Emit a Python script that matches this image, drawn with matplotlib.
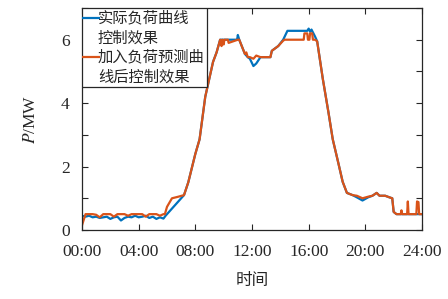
import matplotlib
matplotlib.use("Agg")
import matplotlib.pyplot as plt
from matplotlib.lines import Line2D
from matplotlib.patches import Rectangle
import numpy as np

# ---------------- data (hours, MW) ----------------
low_t = [0.0, 0.25, 0.5, 0.75, 1.0, 1.25, 1.5, 1.75, 2.0, 2.25, 2.5, 2.75,
         3.0, 3.25, 3.5, 3.75, 4.0, 4.25, 4.5, 4.75, 5.0, 5.25, 5.5, 5.75]
blue_low = [0.45, 0.42, 0.45, 0.40, 0.42, 0.38, 0.40, 0.42, 0.35, 0.40, 0.42, 0.30,
            0.38, 0.42, 0.40, 0.45, 0.40, 0.42, 0.45, 0.38, 0.42, 0.35, 0.40, 0.36]
orange_low = [0.15, 0.50, 0.50, 0.50, 0.48, 0.40, 0.50, 0.50, 0.50, 0.42, 0.50, 0.50,
              0.50, 0.45, 0.50, 0.50, 0.50, 0.50, 0.42, 0.50, 0.50, 0.50, 0.45, 0.50]

blue_t = [5.9, 7.2, 7.5, 8.0, 8.3, 8.7, 8.9, 9.25, 9.5, 9.75, 10.0, 10.5, 10.95,
          11.0, 11.1, 11.5, 11.7, 11.85, 12.1, 12.3, 12.6, 13.0, 13.3, 13.4, 13.85,
          14.2, 14.5, 15.9, 16.0, 16.1, 16.2, 16.45, 16.6, 17.0, 17.4, 17.7, 18.1,
          18.4, 18.7, 19.1, 19.4, 19.8, 20.2, 20.5, 20.8, 21.0, 21.4, 21.7, 21.9,
          22.0, 22.2, 24.0]
blue_v = [0.45, 1.1, 1.5, 2.4, 2.86, 4.2, 4.6, 5.3, 5.6, 6.0, 6.0, 6.0, 6.0,
          6.15, 6.0, 5.55, 5.45, 5.4, 5.17, 5.25, 5.45, 5.45, 5.45, 5.65, 5.8,
          6.0, 6.28, 6.28, 6.35, 6.25, 6.32, 6.1, 5.95, 4.76, 3.7, 2.86, 2.1,
          1.52, 1.17, 1.1, 1.03, 0.93, 1.03, 1.08, 1.17, 1.08, 1.08, 1.03, 1.0,
          0.57, 0.5, 0.5]

orange_t = [5.85, 6.0, 6.35, 6.8, 7.2, 7.5, 8.0, 8.3, 8.7, 8.9, 9.25, 9.5, 9.75,
            9.85, 9.9, 10.0, 10.05, 10.3, 10.35, 11.0, 11.1, 11.5, 11.6, 11.7, 11.85,
            12.1, 12.3, 12.6, 13.3, 13.4, 13.85, 14.2, 14.3, 15.65, 15.7, 15.9, 15.95,
            16.05, 16.1, 16.25, 16.3, 16.45, 16.6, 17.0, 17.4, 17.7, 18.1, 18.4, 18.7,
            19.1, 19.4, 19.8, 20.2, 20.5, 20.8, 21.0, 21.4, 21.7, 21.9, 22.0, 22.2,
            22.5, 22.55, 22.6, 22.95, 23.0, 23.05, 23.6, 23.65, 23.75, 23.8, 24.0]
orange_v = [0.5, 0.73, 1.0, 1.05, 1.1, 1.5, 2.4, 2.86, 4.2, 4.6, 5.3, 5.6, 6.0,
            5.8, 6.0, 5.85, 6.0, 6.0, 5.9, 6.0, 6.0, 5.55, 5.6, 5.45, 5.45,
            5.4, 5.5, 5.45, 5.45, 5.65, 5.8, 5.97, 6.0, 6.0, 6.2, 6.2, 6.0,
            6.0, 6.2, 6.2, 6.0, 6.0, 5.95, 4.76, 3.7, 2.86, 2.1, 1.52, 1.17,
            1.1, 1.08, 1.0, 1.05, 1.08, 1.17, 1.08, 1.08, 1.03, 1.0, 0.57, 0.5,
            0.5, 0.62, 0.5, 0.5, 0.9, 0.5, 0.5, 0.9, 0.88, 0.5, 0.5]

xticks = [0, 4, 8, 12, 16, 20, 24]
xticklabels = ["00:00", "04:00", "08:00", "12:00", "16:00", "20:00", "24:00"]
yticks = [0, 2, 4, 6]
legend_labels = ["实际负荷曲线\n控制效果", "加入负荷预测曲\n线后控制效果"]

BLUE = "#0072BD"
ORANGE = "#D95319"

plt.rcParams['font.family'] = ['Liberation Serif', 'Noto Sans CJK SC']
plt.rcParams['mathtext.fontset'] = 'stix'

fig = plt.figure(figsize=(4.48, 2.99), dpi=100)
ax = fig.add_axes([82/448, 1 - 230/299, 340/448, 222/299])

ax.plot(low_t + blue_t, blue_low + blue_v, color=BLUE, lw=1.6)
ax.plot(low_t + orange_t, orange_low + orange_v, color=ORANGE, lw=1.6)

ax.set_xlim(0, 24)
ax.set_ylim(0, 7)
ax.set_xticks(xticks)
ax.set_xticklabels(xticklabels)
ax.set_yticks(yticks)
ax.set_yticks([1, 3, 5, 7], minor=True)
ax.tick_params(which='both', direction='in', top=True, right=True, length=4,
               width=0.8, labelsize=12.5, colors='#262626')
ax.tick_params(axis='x', pad=10)
ax.tick_params(axis='y', pad=9)
for s in ax.spines.values():
    s.set_linewidth(0.9)
    s.set_color('#262626')

ax.set_xlabel("时间", fontsize=12, family=['Noto Sans CJK SC'], labelpad=9, color='#262626')
ax.set_ylabel("$P$/MW", fontsize=12.5, labelpad=16, color='#262626')

# legend drawn manually (handle aligned to first text line)
tr = ax.transAxes
def ax_xy(px, py):
    return ((px - 82) / 340, (230 - py) / 222)
x0, y0 = ax_xy(82, 87)
x1, y1 = ax_xy(207, 8)
ax.add_patch(Rectangle((x0, y0), x1 - x0, y1 - y0, transform=tr, facecolor='white',
                       edgecolor='#262626', lw=0.9, zorder=5))
for (py, lab, col) in [(18, legend_labels[0], BLUE), (57, legend_labels[1], ORANGE)]:
    lx0, ly = ax_xy(83, py)
    lx1, _ = ax_xy(99, py)
    ax.add_line(Line2D([lx0, lx1], [ly, ly], transform=tr, color=col, lw=1.6, zorder=6))
    tx, ty = ax_xy(98, py - 9)
    ax.text(tx, ty, lab, transform=tr, fontsize=11, family=['Noto Sans CJK SC'],
            va='top', ha='left', linespacing=1.25, zorder=7, color='#262626')

fig.savefig("out.png", dpi=100)
